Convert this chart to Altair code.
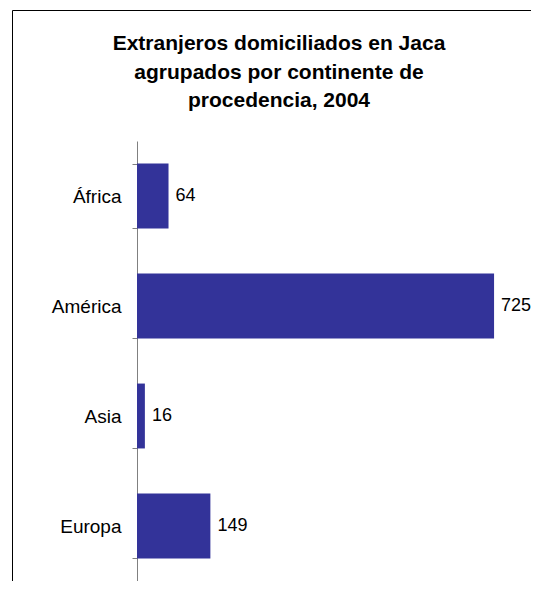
import altair as alt
import pandas as pd

categories = ["África", "América", "Asia", "Europa"]
values = [64, 725, 16, 149]
title_lines = ["Extranjeros domiciliados en Jaca", "agrupados por continente de", "procedencia, 2004"]

df = pd.DataFrame({"continente": categories, "valor": values})

FONT = "Liberation Sans"
BAR = "#333399"

base = alt.Chart(df)

y_enc = alt.Y(
    "continente:N",
    sort=categories,
    scale=alt.Scale(paddingInner=0.41, paddingOuter=0.205),
    axis=alt.Axis(
        title=None,
        tickBand="extent",
        domainColor="#808080",
        tickColor="#808080",
        tickSize=5,
        labelFontSize=19,
        labelFont=FONT,
        labelColor="black",
        labelPadding=11,
        grid=False,
    ),
)
x_enc = alt.X("valor:Q", scale=alt.Scale(domain=[0, 800]), axis=None)

bars = base.mark_bar(color=BAR).encode(y=y_enc, x=x_enc)
labels = base.mark_text(
    align="left", baseline="middle", dx=7, fontSize=18, font=FONT, color="black"
).encode(y=y_enc, x=x_enc, text="valor:Q")

one = pd.DataFrame({"a": [0]})
frame_left = alt.Chart(one).mark_rule(color="black", strokeWidth=1).encode(
    x=alt.value(-124.5), y=alt.value(-130.5), y2=alt.value(460)
)
frame_top = alt.Chart(one).mark_rule(color="black", strokeWidth=1).encode(
    x=alt.value(-124.5), x2=alt.value(420), y=alt.value(-130.5)
)

chart = alt.layer(frame_left, frame_top, bars, labels).properties(
    width=394,
    height=440,
    padding={"left": 129, "top": 133, "right": 0, "bottom": 0},
    autosize=alt.AutoSizeParams(type="none"),
    background="white",
    title=alt.TitleParams(
        text=title_lines,
        font=FONT,
        fontSize=21,
        fontWeight="bold",
        lineHeight=28.5,
        anchor="middle",
        frame="group",
        baseline="bottom",
        offset=29,
        dy=151,
        dx=-55,
        color="black",
    ),
).configure_view(stroke=None)

chart.save("out.html", embed_options={"renderer": "svg", "actions": False})
